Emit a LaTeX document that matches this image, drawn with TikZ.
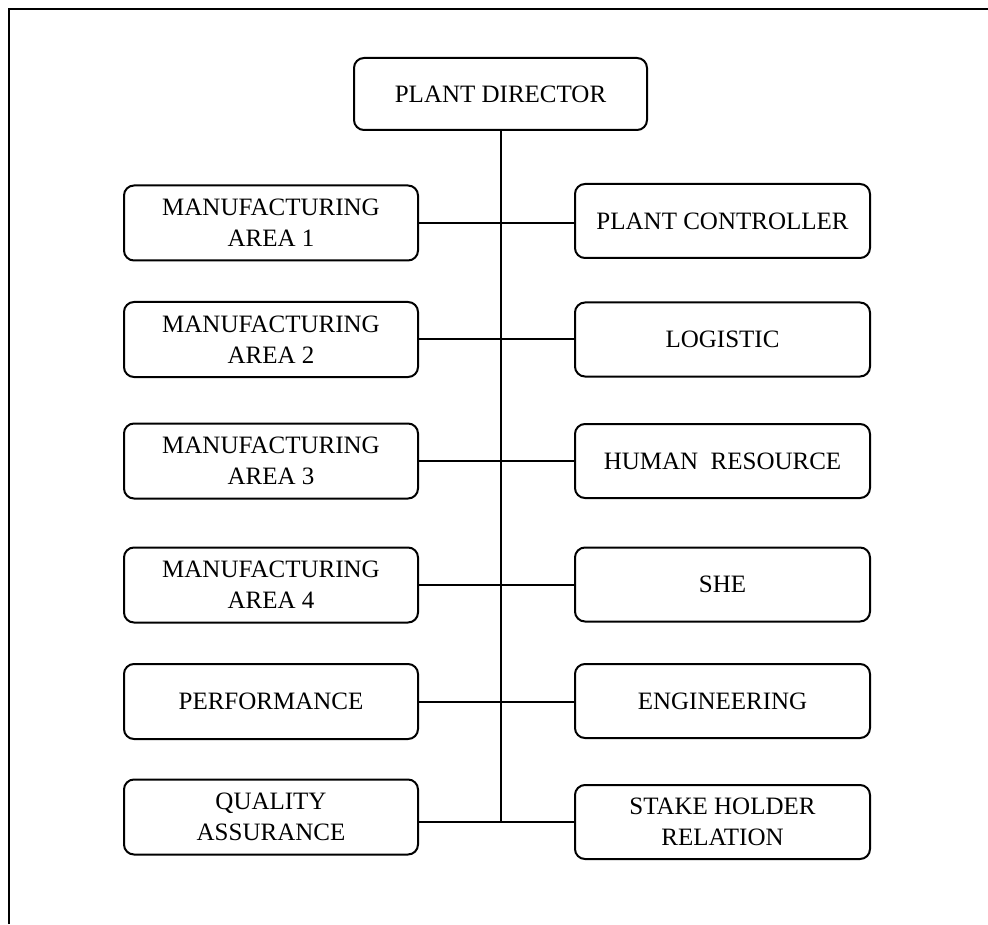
\documentclass[tikz,border=0pt]{standalone}
\usepackage{fontspec}
\setmainfont{Liberation Serif}
\usetikzlibrary{positioning}
\tikzset{
orgbox/.style={
  draw=black,
  line width=1pt,
  rounded corners=5pt,
  align=center,
  font=\fontsize{12.5}{15.5}\selectfont,
  inner sep=0pt
  },
leftbox/.style={orgbox,minimum width=147pt,minimum height=37.5pt},
rightbox/.style={orgbox,minimum width=147.5pt,minimum height=37pt},
link/.style={line width=1pt}
}

\begin{document}
\begin{tikzpicture}[x=0.5pt,y=-0.5pt]
\useasboundingbox (0,0) rectangle (988,924);
\draw[line width=1.4pt] (9,924) -- (9,9) -- (988,9);

\node[orgbox,minimum width=146.5pt,minimum height=36pt] (pd) at (500.5,94) {PLANT DIRECTOR};

% left column
\node[leftbox] (ma1) at (271,223) {MANUFACTURING\\AREA 1};
\node[leftbox] (ma2) at (271,339.5) {MANUFACTURING\\AREA 2};
\node[leftbox] (ma3) at (271,461) {MANUFACTURING\\AREA 3};
\node[leftbox] (ma4) at (271,585) {MANUFACTURING\\AREA 4};
\node[leftbox] (perf) at (271,701.5) {PERFORMANCE};
\node[leftbox] (qa) at (271,817) {QUALITY\\ASSURANCE};

% right column
\node[rightbox] (pc) at (722.5,221) {PLANT CONTROLLER};
\node[rightbox] (log) at (722.5,339.5) {LOGISTIC};
\node[rightbox] (hr) at (722.5,461) {HUMAN\ \ RESOURCE};
\node[rightbox] (she) at (722.5,584.5) {SHE};
\node[rightbox] (eng) at (722.5,701) {ENGINEERING};
\node[rightbox] (shr) at (722.5,822) {STAKE HOLDER\\RELATION};

% trunk and branches
\draw[link] (pd.south) -- (pd.south |- shr.west);
\draw[link] (ma1.east) -- (ma1.east -| pc.west);
\draw[link] (ma2.east) -- (ma2.east -| log.west);
\draw[link] (ma3.east) -- (ma3.east -| hr.west);
\draw[link] (ma4.east) -- (ma4.east -| she.west);
\draw[link] (perf.east) -- (perf.east -| eng.west);
\draw[link] (shr.west -| qa.east) -- (shr.west);
\end{tikzpicture}
\end{document}
